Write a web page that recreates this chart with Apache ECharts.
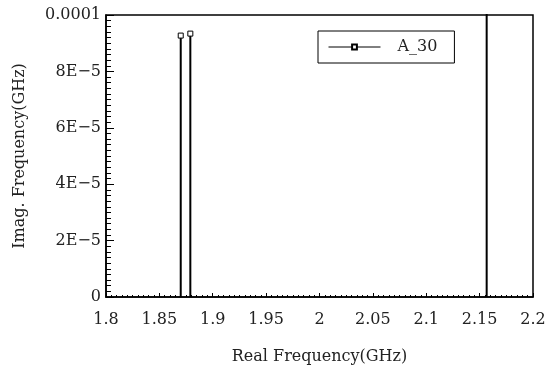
<!DOCTYPE html>
<html>
<head>
<meta charset="utf-8">
<script src="https://cdn.jsdelivr.net/npm/echarts@6/dist/echarts.min.js"></script>
<style>html,body{margin:0;padding:0;background:#fff}#c{width:553px;height:371px}</style>
</head>
<body>
<div id="c"></div>
<script>
var seriesName = 'A_30';
var stemX = [1.870, 1.879, 2.1566];
var stemY = [9.27e-5, 9.34e-5, 1.6e-4];
var xTicks = [1.8, 1.85, 1.9, 1.95, 2, 2.05, 2.1, 2.15, 2.2];
var yTickValues = [0, 2e-5, 4e-5, 6e-5, 8e-5, 1e-4];
var yTickLabels = ['0', '2E\u22125', '4E\u22125', '6E\u22125', '8E\u22125', '0.0001'];

var FONT = 'DejaVu Serif';
var data = [];
for (var i = 0; i < stemX.length; i++) {
  data.push({value: [stemX[i], 0], symbol: 'none'});
  data.push({value: [stemX[i], stemY[i]]});
  data.push({value: [stemX[i], 0], symbol: 'none'});
  data.push({value: ['-', '-'], symbol: 'none'});
}
function yFmt(v) {
  for (var k = 0; k < yTickValues.length; k++) {
    if (Math.abs(v - yTickValues[k]) < 1e-9) return yTickLabels[k];
  }
  return String(v);
}
function xFmt(v) {
  for (var k = 0; k < xTicks.length; k++) {
    if (Math.abs(v - xTicks[k]) < 1e-6) return String(xTicks[k]);
  }
  return String(v);
}
var chart = echarts.init(document.getElementById('c'), null, {renderer: 'canvas'});
chart.setOption({
  animation: false,
  backgroundColor: '#fff',
  grid: {left: 106, right: 20, top: 15, bottom: 74, show: true, borderColor: '#000', borderWidth: 1.5, containLabel: false, outerBoundsMode: 'none'},
  legend: {
    data: [seriesName], left: 318, top: 31, orient: 'vertical',
    padding: [8, 17, 8, 10], borderColor: '#000', borderWidth: 1,
    itemWidth: 52, itemHeight: 6,
    textStyle: {fontFamily: FONT, fontSize: 16, color: '#222', padding: [0, 0, 0, 12]},
    lineStyle: {width: 1}
  },
  xAxis: {
    type: 'value', min: 1.8, max: 2.2, interval: 0.05,
    name: 'Real Frequency(GHz)', nameLocation: 'middle', nameGap: 52,
    nameTextStyle: {fontFamily: FONT, fontSize: 16, color: '#222'},
    axisLine: {show: true, lineStyle: {color: '#000', width: 1.5}},
    axisTick: {show: true, inside: true, length: 4, lineStyle: {color: '#000'}},
    minorTick: {show: true, splitNumber: 10, length: 2, lineStyle: {color: '#000'}},
    splitLine: {show: false},
    axisLabel: {fontFamily: FONT, fontSize: 16, color: '#222', margin: 15, formatter: xFmt}
  },
  yAxis: {
    type: 'value', min: 0, max: 0.0001, interval: 0.00002,
    name: 'Imag. Frequency(GHz)', nameLocation: 'middle', nameGap: 78, nameRotate: 90,
    nameTextStyle: {fontFamily: FONT, fontSize: 16, color: '#222'},
    axisLine: {show: true, lineStyle: {color: '#000', width: 1.5}},
    axisTick: {show: true, inside: true, length: 8, lineStyle: {color: '#000'}},
    minorTick: {show: true, splitNumber: 10, length: 5, lineStyle: {color: '#000'}},
    splitLine: {show: false},
    axisLabel: {fontFamily: FONT, fontSize: 16, color: '#222', margin: 5, formatter: yFmt}
  },
  series: [{
    name: seriesName, type: 'line', data: data, connectNulls: false, clip: true,
    symbol: 'rect', symbolSize: 5, showSymbol: true,
    lineStyle: {color: '#000', width: 2},
    itemStyle: {color: '#fff', borderColor: '#000', borderWidth: 1}
  }]
});
</script>
</body>
</html>
